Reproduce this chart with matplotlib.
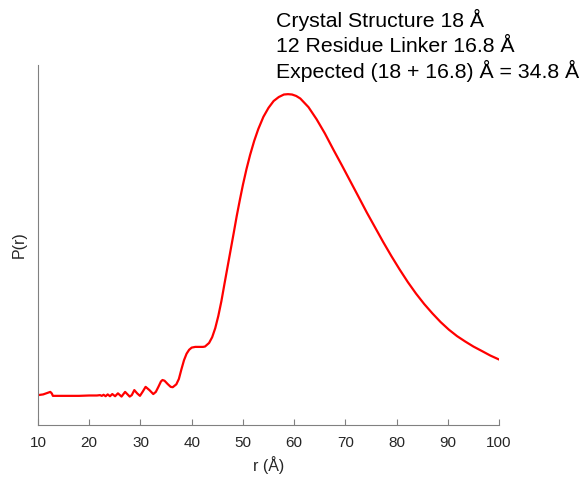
import numpy as np
import matplotlib
matplotlib.use("Agg")
import matplotlib.pyplot as plt

# distance distribution P(r), arbitrary units
r = [10.0, 11.0, 11.8, 12.4, 12.7, 12.9, 14.0, 16.0, 18.0, 20.0, 21.5,
     22.1, 22.45, 22.8, 23.2, 23.6, 24.05, 24.5, 25.05, 25.6, 26.3,
     27.0, 27.9, 28.3, 28.8, 29.35, 29.9, 30.45, 31.0, 31.75, 32.5,
     33.0, 33.5, 34.0, 34.3, 34.7, 35.3, 35.9, 36.3, 37.0, 37.5,
     38.0, 38.5, 39.0, 39.5, 40.0, 40.7, 41.5, 42.2, 42.6, 43.4,
     44.0, 44.6, 45.2, 45.8, 46.4, 47.0, 47.6, 48.2, 48.8, 49.4,
     50.0, 50.7, 51.4, 52.2, 53.0, 54.0, 55.0, 56.0, 57.0, 58.0,
     58.8, 59.6, 60.4, 61.2, 62.8, 64.4, 66.0, 67.7, 69.3, 70.9,
     72.5, 74.2, 75.8, 77.4, 79.0, 80.6, 82.2, 83.8, 85.4, 87.0,
     88.6, 90.2, 91.8, 93.4, 95.0, 96.6, 98.3, 100.0]
p = [0.083, 0.085, 0.089, 0.092, 0.0875, 0.081, 0.081, 0.081, 0.081, 0.082, 0.082,
     0.083, 0.081, 0.084, 0.080, 0.085, 0.080, 0.086, 0.080, 0.088, 0.079,
     0.092, 0.079, 0.083, 0.097, 0.088, 0.081, 0.093, 0.106, 0.097, 0.086,
     0.092, 0.106, 0.121, 0.125, 0.123, 0.114, 0.106, 0.105, 0.113, 0.128,
     0.155, 0.180, 0.198, 0.209, 0.215, 0.217, 0.217, 0.217, 0.218, 0.228,
     0.244, 0.269, 0.303, 0.344, 0.392, 0.439, 0.486, 0.533, 0.581, 0.625,
     0.667, 0.711, 0.750, 0.789, 0.822, 0.856, 0.881, 0.900, 0.911, 0.918,
     0.919, 0.918, 0.914, 0.907, 0.883, 0.849, 0.810, 0.764, 0.722, 0.679,
     0.636, 0.590, 0.549, 0.508, 0.469, 0.432, 0.397, 0.365, 0.336, 0.310,
     0.286, 0.265, 0.247, 0.232, 0.218, 0.206, 0.193, 0.182]

notes = ["Crystal Structure 18 Å",
         "12 Residue Linker 16.8 Å",
         "Expected (18 + 16.8) Å = 34.8 Å"]

plt.rcParams['font.family'] = ['Liberation Sans', 'DejaVu Sans']

fig = plt.figure(figsize=(5.85, 4.79), dpi=100)
ax = fig.add_axes([0.065, 0.1127, 0.788, 0.7516])
ax.plot(r, p, color='red', linewidth=1.6)

ax.set_xlim(10, 100)
ax.set_ylim(0, 1)
ax.set_xticks(np.arange(10, 101, 10))
ax.set_yticks([])
for side in ['top', 'right']:
    ax.spines[side].set_visible(False)
for side in ['left', 'bottom']:
    ax.spines[side].set_color('#808080')
ax.tick_params(axis='x', direction='in', length=4, color='#808080',
               labelsize=11, labelcolor='#262626', pad=8)
ax.set_xlabel('r (Å)', fontsize=11.5, color='#262626', labelpad=4)
ax.set_ylabel('P(r)', fontsize=11.5, color='#262626', labelpad=8)

# legend-like notes, one line each so spacing stays even
for i, line in enumerate(notes):
    fig.text(276 / 585, 1 - (27 + 25.5 * i) / 479, line, fontsize=15.3,
             va='baseline', ha='left')

fig.savefig('out.png', dpi=100)
